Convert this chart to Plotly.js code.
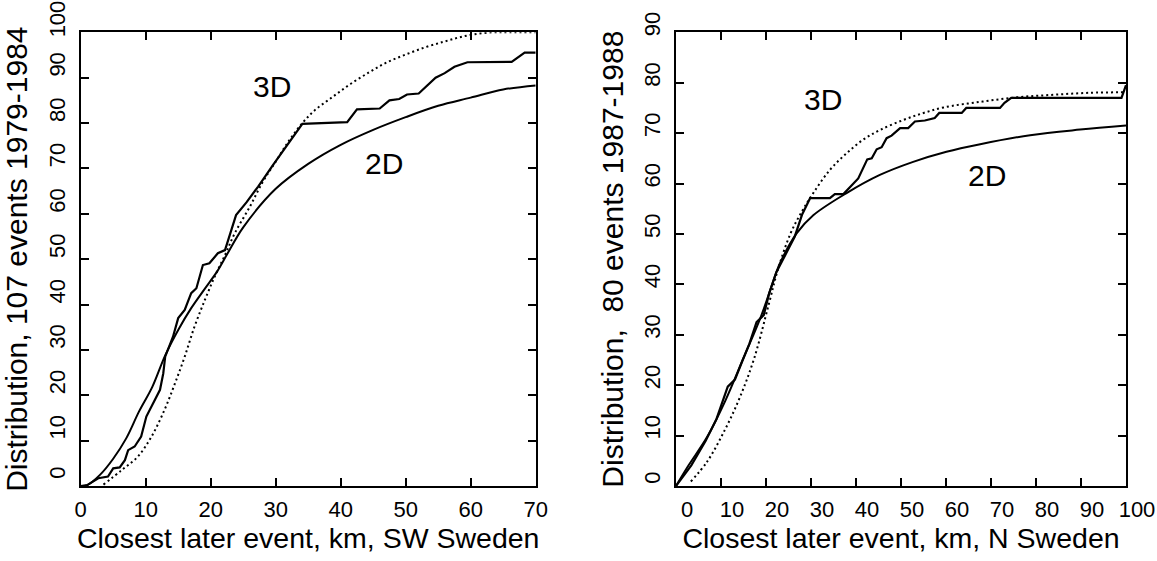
<!DOCTYPE html>
<html><head><meta charset="utf-8">
<script src="https://cdn.plot.ly/plotly-3.0.1.min.js"></script>
<style>html,body{margin:0;padding:0;background:#fff}#chart{width:1157px;height:561px}</style>
</head><body><div id="chart"></div>
<script>
// ---------- SW Sweden, 107 events 1979-1984 ----------
const swObsX = [0, 1, 2.7, 4.2, 5, 6, 6.8, 7.3, 8.3, 9.3, 10.1, 11.1, 12.2, 12.7, 13, 14.2, 15, 16, 17, 17.8, 18.8, 19.8, 21.1, 22.2, 23.9, 25.5, 27.3, 29.6, 31.9, 34.1, 41, 42.5, 46, 47.5, 49, 50.2, 52, 54.6, 56, 57.5, 59.5, 66.3, 68.3, 70];
const swObsY = [0, 0.2, 1.7, 2.1, 3.9, 4.1, 5.7, 7.9, 8.7, 10.9, 15.3, 18.2, 21.2, 24.8, 28.5, 32.9, 37, 38.8, 42.5, 43.6, 48.7, 49.1, 51.3, 52, 59.7, 62.5, 66, 70.8, 75.5, 79.8, 80.2, 83, 83.2, 85, 85.3, 86.3, 86.5, 90, 91, 92.4, 93.4, 93.5, 95.5, 95.5];
const sw2DX = [0, 1, 3, 5, 7, 9, 11, 13, 15, 17, 19, 21, 22.5, 25, 30, 35, 40, 45, 50, 55, 60, 65, 70];
const sw2DY = [0, 0.2, 2.5, 6, 10.5, 16.5, 21.8, 28.8, 34.4, 39.2, 43.3, 47.3, 51, 57, 65.5, 71, 75.2, 78.5, 81.3, 83.8, 85.6, 87.4, 88.3];
const sw3DX = [3.5, 6.3, 8.8, 10.9, 12.9, 14.5, 16, 17.5, 19.1, 20.6, 22.2, 23.7, 26, 28, 30, 32, 34.1, 36, 38.7, 41.5, 44.4, 47, 50, 53, 55.8, 58, 60.3, 63.2, 66, 70];
const sw3DY = [0.3, 3.5, 6.5, 10.9, 16.8, 22.6, 28.5, 35.1, 41, 46.1, 50.9, 55.7, 61.5, 67, 71.5, 76, 80, 82.8, 85.7, 88.6, 91.2, 93.3, 95.1, 96.7, 97.9, 98.8, 99.5, 100, 100, 100];

// ---------- N Sweden, 80 events 1987-1988 ----------
const nObsX = [0, 3.4, 6.6, 9, 11.5, 13.1, 14.7, 16.3, 17.9, 19.5, 20.7, 22.3, 24.8, 26.4, 28, 29.8, 34.2, 35.3, 37.2, 40.5, 42.5, 43.5, 44.6, 45.7, 46.8, 47.9, 49.8, 51.6, 53.1, 55.3, 57.5, 58.5, 63.5, 64.5, 72, 73, 74.5, 99, 100];
const nObsY = [0, 4.1, 9, 13.3, 19.7, 21.1, 24.7, 28.2, 32.5, 33.9, 38.2, 42.4, 46.7, 49.5, 53.8, 57.1, 57.1, 57.9, 57.9, 61, 64.8, 65, 66.8, 67.2, 69, 69.5, 71, 71, 72.3, 72.5, 73, 74, 74, 75, 75, 76, 77, 77, 79.5];
const n2DX = [0, 2.8, 6.9, 10.9, 15, 19, 22.3, 23.1, 26.8, 30.5, 37.9, 45.3, 52.7, 60.1, 67.6, 78.7, 89.8, 100];
const n2DY = [0, 4.1, 9.7, 16.8, 25.4, 33.9, 42.4, 44.2, 50.1, 53.7, 58.1, 61.7, 64.3, 66.3, 67.8, 69.6, 70.7, 71.5];
const n3DX = [3.3, 6.9, 10.9, 14.2, 17.4, 20.6, 22.7, 25.5, 28, 30.5, 34.2, 37.9, 41.6, 45.3, 50.5, 55, 59.5, 67.6, 75.7, 83.8, 91.9, 100];
const n3DY = [0.9, 4.8, 11.2, 17.6, 25.4, 36, 43.1, 50.2, 54.5, 58.1, 62.7, 66, 68.7, 70.6, 72.6, 74, 75.1, 76.2, 77.1, 77.6, 78, 78.1];

// tick labels
const swXTicks = [0, 10, 20, 30, 40, 50, 60, 70];
const swYTicks = [0, 10, 20, 30, 40, 50, 60, 70, 80, 90, 100];
const nXTicks = [0, 10, 20, 30, 40, 50, 60, 70, 80, 90, 100];
const nYTicks = [0, 10, 20, 30, 40, 50, 60, 70, 80, 90];

const swXTitle = 'Closest later event, km, SW Sweden';
const swYTitle = 'Distribution, 107 events 1979-1984';
const nXTitle = 'Closest later event, km, N Sweden';
const nYTitle = 'Distribution,  80 events 1987-1988';

const FONT = '"Liberation Sans", Arial, sans-serif';
const W = 1157, H = 561;
const TICKSIZE = 22;

const solid = {color: '#000', width: 2.2};
const theo = {color: '#000', width: 2, shape: 'spline'};
const dotted = {color: '#000', width: 2, dash: '2px,3px', shape: 'spline'};

const traces = [
  {x: swObsX, y: swObsY, xaxis: 'x', yaxis: 'y', mode: 'lines', line: solid, name: 'observed SW'},
  {x: sw2DX, y: sw2DY, xaxis: 'x', yaxis: 'y', mode: 'lines', line: theo, name: '2D SW'},
  {x: sw3DX, y: sw3DY, xaxis: 'x', yaxis: 'y', mode: 'lines', line: dotted, name: '3D SW'},
  {x: nObsX, y: nObsY, xaxis: 'x2', yaxis: 'y2', mode: 'lines', line: solid, name: 'observed N'},
  {x: n2DX, y: n2DY, xaxis: 'x2', yaxis: 'y2', mode: 'lines', line: theo, name: '2D N'},
  {x: n3DX, y: n3DY, xaxis: 'x2', yaxis: 'y2', mode: 'lines', line: dotted, name: '3D N'}
];

const common = {
  ticks: 'inside', ticklen: 8, tickwidth: 2, tickcolor: '#000',
  showline: true, linewidth: 2, linecolor: '#000', mirror: 'ticks',
  showgrid: false, zeroline: false, fixedrange: true,
  ticklabeloverflow: 'allow',
  tickfont: {family: FONT, size: TICKSIZE, color: '#000'}
};

function xAxis(domainPx, range, ticks, title, shift, anchor) {
  return Object.assign({}, common, {
    domain: [domainPx[0] / W, domainPx[1] / W], anchor: anchor, range: range,
    tickmode: 'array', tickvals: ticks, ticktext: ticks.map(String),
    ticklabelshift: shift, ticklabelstandoff: 3,
    title: {text: title, font: {family: FONT, size: 28.5, color: '#000'}, standoff: 6}
  });
}
function yAxis(domainPx, range, ticks, title, shift, anchor) {
  return Object.assign({}, common, {
    domain: [(H - domainPx[1]) / H, (H - domainPx[0]) / H], anchor: anchor, range: range,
    tickmode: 'array', tickvals: ticks, ticktext: ticks.map(String), tickangle: -90,
    ticklabelshift: shift, ticklabelstandoff: 5,
    title: {text: title, font: {family: FONT, size: 30, color: '#000'}, standoff: 8}
  });
}

const curveLabels = [
  {xref: 'x', yref: 'y', x: 29.5, y: 88, text: '3D'},
  {xref: 'x', yref: 'y', x: 46.7, y: 71.1, text: '2D'},
  {xref: 'x2', yref: 'y2', x: 32.6, y: 76.7, text: '3D'},
  {xref: 'x2', yref: 'y2', x: 69.1, y: 61.5, text: '2D'}
].map(a => Object.assign(a, {showarrow: false, font: {family: FONT, size: 30, color: '#000'}}));

const layout = {
  width: W, height: H, margin: {l: 0, r: 0, t: 0, b: 0},
  paper_bgcolor: '#fff', plot_bgcolor: '#fff', showlegend: false,
  xaxis: xAxis([80.7, 535.7], [0, 70], swXTicks, swXTitle, 0, 'y'),
  yaxis: yAxis([32.3, 486], [0, 100], swYTicks, swYTitle, -10, 'x'),
  xaxis2: xAxis([676, 1126], [0, 100], nXTicks, nXTitle, 11, 'y2'),
  yaxis2: yAxis([32.3, 486], [0, 90], nYTicks, nYTitle, -5, 'x2'),
  annotations: curveLabels
};

Plotly.newPlot('chart', traces, layout, {displayModeBar: false, staticPlot: true});
</script>
</body></html>
